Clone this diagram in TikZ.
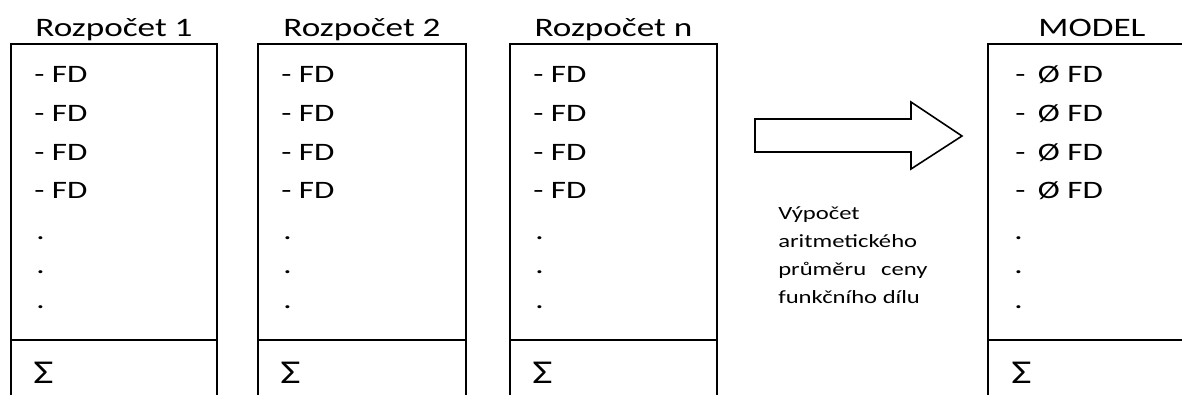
\documentclass[tikz,border=0pt]{standalone}
\usepackage{fontspec}
\setmainfont[FakeStretch=1.32]{Carlito}
\usetikzlibrary{arrows}

\begin{document}
\begin{tikzpicture}[x=0.75pt,y=-0.75pt]

    \tikzstyle{frame}=[line width=1.2pt]
    \tikzstyle{title}=[font=\fontsize{20}{24}\selectfont, anchor=base, inner sep=0pt]
    \tikzstyle{item}=[font=\fontsize{18.8}{22}\selectfont, anchor=base west, inner sep=0pt]
    \tikzstyle{sum}=[item, font=\fontsize{25}{28}\selectfont]
    \tikzstyle{note}=[font=\fontsize{14}{21}\selectfont, anchor=base west, align=left, inner sep=0pt]

    \def \boxTop {44} % upper edge of every column
    \def \boxBottom {400} % columns run out of the picture
    \def \sumLine {340} % line above the sum

    \useasboundingbox (0,0) rectangle (1182,394);

    \newcommand\budgetbox[4]{
        \draw[frame] (#2,\boxBottom) -- (#2,\boxTop) -- (#3,\boxTop) -- (#3,\boxBottom);
        \draw[frame] (#2,\sumLine) -- (#3,\sumLine);
        \node[title] (#1_title) at ({(#2+#3)/2},36) {#4};
        \node[item] (#1_fd1) at (#2+23,82) {- FD};
        \node[item] (#1_fd2) at (#2+23,121) {- FD};
        \node[item] (#1_fd3) at (#2+23,160) {- FD};
        \node[item] (#1_fd4) at (#2+23,198) {- FD};
        \node[item] (#1_dot1) at (#2+25,239) {.};
        \node[item] (#1_dot2) at (#2+25,273) {.};
        \node[item] (#1_dot3) at (#2+25,308) {.};
        \node[sum] (#1_sum) at (#2+22,383) {Σ};
    }
    %\budgetbox{name}{left}{right}{title};

    % the budgets
    \budgetbox{budget_one}{11}{217}{Rozpočet 1};
    \budgetbox{budget_two}{258}{466}{Rozpočet 2};
    \budgetbox{budget_n}{510}{717}{Rozpočet n};

    % the model, its right side is cut off
    \draw[frame] (988,\boxBottom) -- (988,\boxTop) -- (1182,\boxTop);
    \draw[frame] (988,\sumLine) -- (1182,\sumLine);
    \node[title] (model_title) at (1092,36) {MODEL};
    \node[item] (model_fd1) at (1015,82) {-\hspace{0.5em}Ø FD};
    \node[item] (model_fd2) at (1015,121) {-\hspace{0.5em}Ø FD};
    \node[item] (model_fd3) at (1015,160) {-\hspace{0.5em}Ø FD};
    \node[item] (model_fd4) at (1015,198) {-\hspace{0.5em}Ø FD};
    \node[item] (model_dot1) at (1014,239) {.};
    \node[item] (model_dot2) at (1014,273) {.};
    \node[item] (model_dot3) at (1014,308) {.};
    \node[sum] (model_sum) at (1011,383) {Σ};

    % the block arrow between the budgets and the model
    \draw[frame] (755,119) -- (911,119) -- (911,102) -- (962,136) -- (911,169) -- (911,152) -- (755,152) -- cycle;

    \node[note] (calc_note) at (778,303) {Výpočet\\aritmetického\\průměru\hspace{0.8em}ceny\\funkčního dílu};

\end{tikzpicture}
\end{document}
